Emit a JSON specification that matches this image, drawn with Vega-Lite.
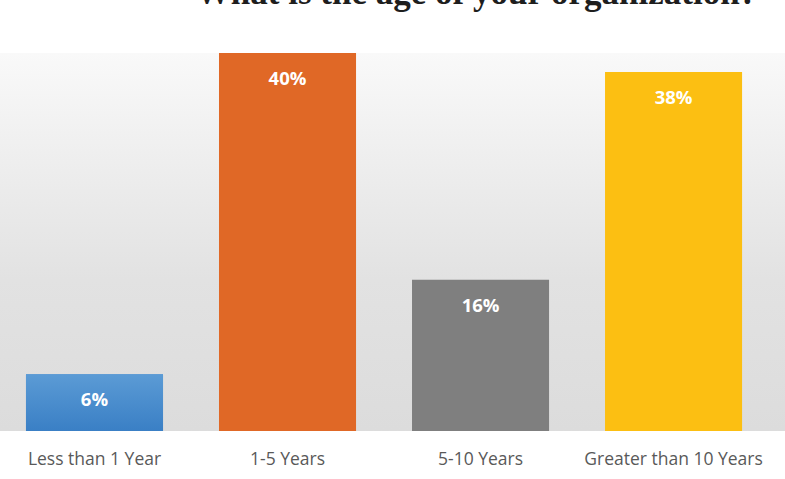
{
  "$schema": "https://vega.github.io/schema/vega-lite/v6.json",
  "autosize": {"type": "none"},
  "width": 785,
  "height": 378,
  "padding": {"left": 0, "top": 53, "right": 0, "bottom": 48},
  "background": "#ffffff",
  "title": {
    "text": "What is the age of your organization?",
    "font": "Liberation Serif",
    "fontSize": 35,
    "fontWeight": "bold",
    "color": "#1e1e1e",
    "anchor": "middle",
    "dx": 84,
    "offset": 14,
    "baseline": "alphabetic"
  },
  "view": {
    "stroke": null,
    "fill": {
      "x1": 0, "y1": 0, "x2": 0, "y2": 1,
      "gradient": "linear",
      "stops": [
        {"offset": 0, "color": "#f9f9f9"},
        {"offset": 0.6, "color": "#e2e2e2"},
        {"offset": 1, "color": "#dcdcdc"}
      ]
    }
  },
  "data": {
    "values": [
      {"category": "Less than 1 Year", "value": 6, "label": "6%"},
      {"category": "1-5 Years", "value": 40, "label": "40%"},
      {"category": "5-10 Years", "value": 16, "label": "16%"},
      {"category": "Greater than 10 Years", "value": 38, "label": "38%"}
    ]
  },
  "encoding": {
    "x": {
      "field": "category",
      "type": "nominal",
      "sort": null,
      "scale": {"paddingInner": 0.29, "paddingOuter": 0.1785, "align": 0.377},
      "axis": {
        "title": null,
        "domain": false,
        "ticks": false,
        "labelAngle": 0,
        "labelFont": "Open Sans",
        "labelFontSize": 17.5,
        "labelColor": "#595959",
        "labelPadding": 19
      }
    },
    "y": {
      "field": "value",
      "type": "quantitative",
      "scale": {"domain": [0, 40], "nice": false},
      "axis": null
    }
  },
  "layer": [
    {
      "mark": {"type": "bar"},
      "encoding": {
        "color": {
          "field": "category",
          "type": "nominal",
          "sort": null,
          "scale": {"range": ["#4a8ccf", "#e06826", "#7f7f7f", "#fcbf12"]},
          "legend": null
        }
      }
    },
    {
      "transform": [{"filter": "datum.category === 'Less than 1 Year'"}],
      "mark": {
        "type": "bar",
        "color": {
          "x1": 0, "y1": 0, "x2": 0, "y2": 1,
          "gradient": "linear",
          "stops": [
            {"offset": 0, "color": "#5b9bd5"},
            {"offset": 1, "color": "#3a7fc5"}
          ]
        }
      }
    },
    {
      "mark": {
        "type": "text",
        "color": "#ffffff",
        "font": "Open Sans",
        "fontSize": 18.5,
        "fontWeight": "bold",
        "baseline": "middle",
        "dy": 26
      },
      "encoding": {"text": {"field": "label"}}
    }
  ]
}
